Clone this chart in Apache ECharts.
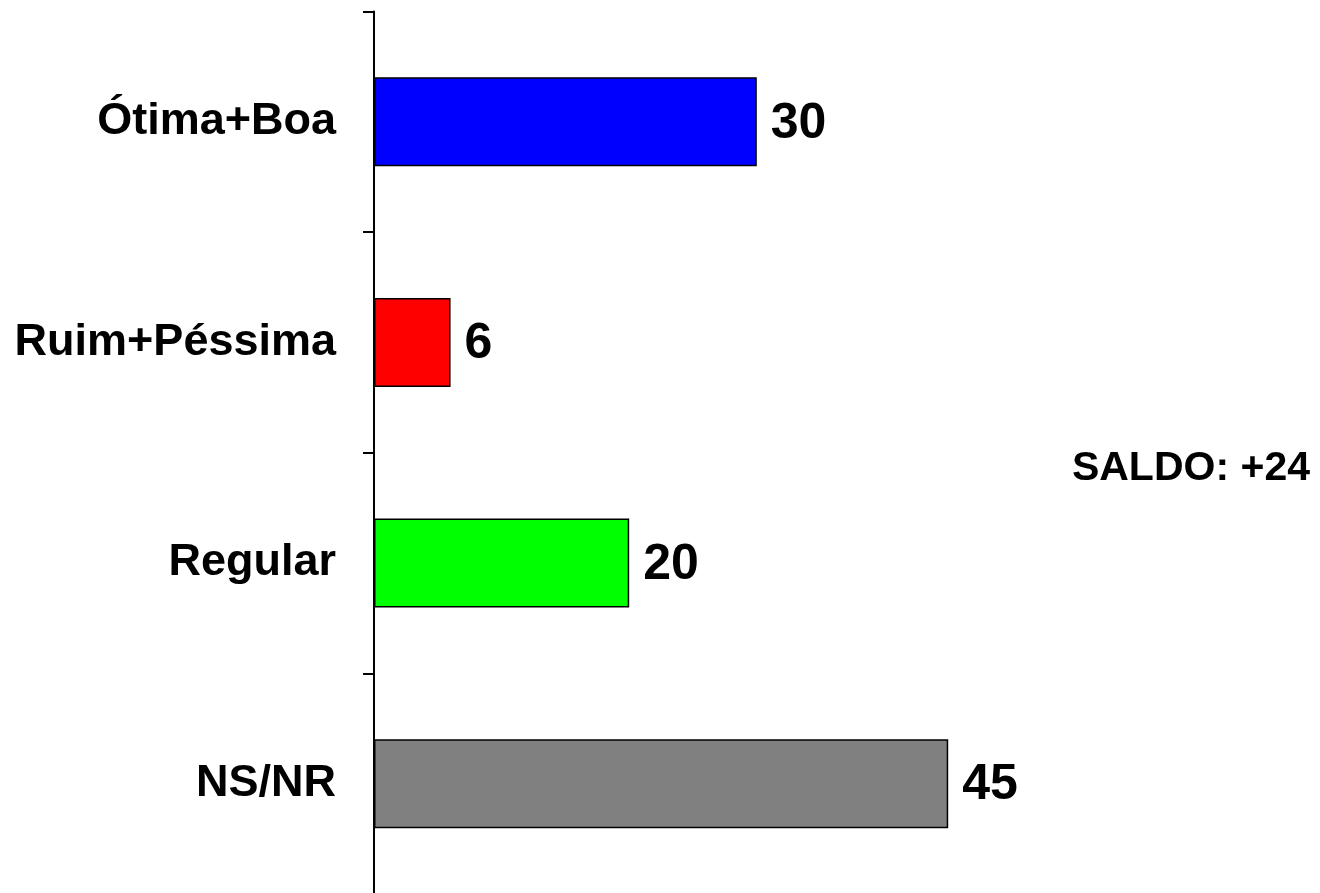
<!DOCTYPE html>
<html>
<head>
<meta charset="utf-8">
<script src="https://cdn.jsdelivr.net/npm/echarts@6/dist/echarts.min.js"></script>
<style>
html,body{margin:0;padding:0;background:#fff;overflow:hidden;}
#chart{width:1320px;height:905px;}
</style>
</head>
<body>
<div id="chart"></div>
<script>
const categories = ['Ótima+Boa', 'Ruim+Péssima', 'Regular', 'NS/NR'];
const values = [30, 6, 20, 45];
const colors = ['#0000FF', '#FF0000', '#00FF00', '#808080'];
const saldoText = 'SALDO: +24';

const chart = echarts.init(document.getElementById('chart'));
chart.setOption({
  backgroundColor: '#ffffff',
  animation: false,
  grid: { left: 374, top: 11.5, width: 638, height: 882.5, containLabel: false },
  xAxis: {
    type: 'value', min: 0, max: 50, show: false
  },
  yAxis: {
    type: 'category',
    data: categories,
    inverse: true,
    axisLine: { show: true, lineStyle: { color: '#000', width: 2 } },
    axisTick: { show: true, length: 11, lineStyle: { color: '#000', width: 2 } },
    axisLabel: {
      margin: 38,
      color: '#000',
      fontFamily: 'Liberation Sans, Arial, sans-serif',
      fontWeight: 'bold',
      fontSize: 45
    },
    splitLine: { show: false }
  },
  series: [{
    type: 'bar',
    barWidth: 89,
    data: values.map((v, i) => ({ value: v, itemStyle: { color: colors[i] } })),
    itemStyle: { borderColor: '#000', borderWidth: 1.5 },
    label: {
      show: true,
      position: 'right',
      distance: 14,
      offset: [0, 2],
      color: '#000',
      fontFamily: 'Liberation Sans, Arial, sans-serif',
      fontWeight: 'bold',
      fontSize: 50
    }
  }],
  graphic: [{
    type: 'text',
    right: 10,
    top: 448,
    style: {
      text: saldoText,
      fill: '#000',
      font: 'bold 41px "Liberation Sans", Arial, sans-serif'
    }
  }]
});
</script>
</body>
</html>
